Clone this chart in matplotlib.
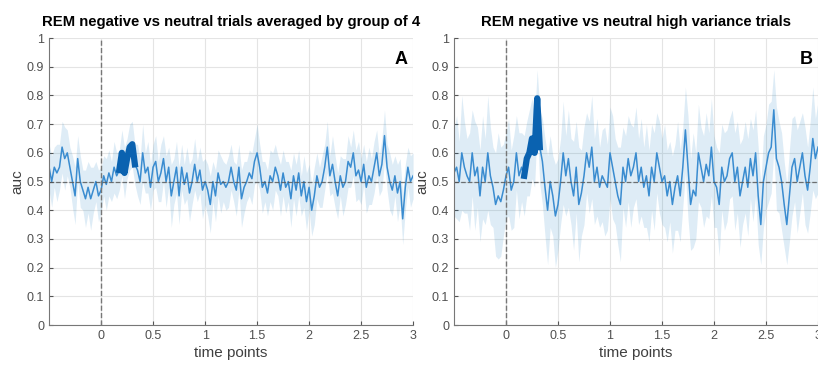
import numpy as np
import matplotlib
matplotlib.use("Agg")
import matplotlib.pyplot as plt

plt.rcParams['font.family'] = ['Liberation Sans', 'DejaVu Sans']

# mean auc per time point, panel A (step 0.025 s from -0.5 to 3)
auc_a = [0.55, 0.50, 0.55, 0.53, 0.55, 0.62, 0.58, 0.60, 0.55, 0.50,
         0.45, 0.58, 0.50, 0.47, 0.44, 0.48, 0.44, 0.47, 0.50, 0.45,
         0.47, 0.52, 0.49, 0.53, 0.50, 0.55, 0.52, 0.54, 0.60, 0.53,
         0.58, 0.62, 0.63, 0.56, 0.54, 0.50, 0.60, 0.53, 0.55, 0.48,
         0.55, 0.57, 0.50, 0.53, 0.58, 0.50, 0.55, 0.45, 0.50, 0.55,
         0.45, 0.55, 0.49, 0.53, 0.46, 0.50, 0.56, 0.50, 0.54, 0.47,
         0.50, 0.47, 0.42, 0.50, 0.45, 0.53, 0.49, 0.50, 0.48, 0.50,
         0.55, 0.50, 0.47, 0.55, 0.44, 0.48, 0.50, 0.53, 0.51, 0.57,
         0.60, 0.55, 0.48, 0.50, 0.46, 0.52, 0.50, 0.55, 0.52, 0.47,
         0.53, 0.48, 0.50, 0.44, 0.52, 0.47, 0.53, 0.45, 0.50, 0.43,
         0.48, 0.40, 0.45, 0.52, 0.48, 0.50, 0.55, 0.62, 0.52, 0.56,
         0.50, 0.45, 0.52, 0.48, 0.50, 0.57, 0.55, 0.60, 0.52, 0.54,
         0.50, 0.56, 0.48, 0.52, 0.50, 0.55, 0.60, 0.52, 0.56, 0.66,
         0.55, 0.50, 0.47, 0.52, 0.46, 0.50, 0.37, 0.48, 0.55, 0.50, 0.52]
# half width of the shaded band, panel A
err_a = [0.08, 0.09, 0.07, 0.10, 0.08, 0.09, 0.11, 0.08, 0.07, 0.09,
         0.10, 0.08, 0.09, 0.07, 0.10, 0.09, 0.11, 0.08, 0.07, 0.09,
         0.08, 0.07, 0.09, 0.08, 0.07, 0.09, 0.08, 0.07, 0.08, 0.09,
         0.07, 0.08, 0.08, 0.07, 0.09, 0.08, 0.10, 0.07, 0.09, 0.08,
         0.08, 0.09, 0.07, 0.10, 0.08, 0.09, 0.07, 0.11, 0.08, 0.09,
         0.10, 0.08, 0.07, 0.09, 0.10, 0.08, 0.09, 0.07, 0.08, 0.10,
         0.08, 0.09, 0.10, 0.07, 0.09, 0.08, 0.10, 0.07, 0.08, 0.09,
         0.08, 0.07, 0.09, 0.08, 0.10, 0.09, 0.07, 0.08, 0.09, 0.08,
         0.10, 0.08, 0.09, 0.07, 0.08, 0.09, 0.10, 0.08, 0.07, 0.09,
         0.08, 0.09, 0.07, 0.10, 0.08, 0.09, 0.08, 0.07, 0.09, 0.10,
         0.08, 0.09, 0.10, 0.08, 0.07, 0.09, 0.08, 0.09, 0.07, 0.10,
         0.09, 0.08, 0.07, 0.10, 0.08, 0.09, 0.07, 0.08, 0.09, 0.10,
         0.08, 0.07, 0.09, 0.10, 0.08, 0.09, 0.08, 0.07, 0.09, 0.09,
         0.08, 0.10, 0.09, 0.07, 0.10, 0.08, 0.09, 0.08, 0.07, 0.09, 0.08]

# panel B
auc_b = [0.53, 0.55, 0.50, 0.60, 0.55, 0.52, 0.50, 0.60, 0.52, 0.55,
         0.45, 0.55, 0.50, 0.60, 0.52, 0.48, 0.42, 0.45, 0.43, 0.47,
         0.52, 0.55, 0.47, 0.50, 0.60, 0.52, 0.55, 0.52, 0.58, 0.60,
         0.65, 0.60, 0.79, 0.62, 0.57, 0.48, 0.40, 0.50, 0.45, 0.38,
         0.42, 0.50, 0.60, 0.52, 0.58, 0.50, 0.45, 0.55, 0.42, 0.46,
         0.52, 0.60, 0.55, 0.62, 0.50, 0.55, 0.48, 0.52, 0.50, 0.48,
         0.60, 0.55, 0.50, 0.45, 0.42, 0.55, 0.50, 0.58, 0.52, 0.55,
         0.60, 0.50, 0.55, 0.48, 0.52, 0.45, 0.55, 0.50, 0.60, 0.55,
         0.50, 0.52, 0.45, 0.50, 0.42, 0.48, 0.52, 0.45, 0.55, 0.68,
         0.55, 0.42, 0.47, 0.45, 0.60, 0.55, 0.50, 0.56, 0.52, 0.62,
         0.50, 0.48, 0.42, 0.55, 0.50, 0.52, 0.58, 0.60, 0.50, 0.55,
         0.45, 0.50, 0.55, 0.48, 0.58, 0.52, 0.60, 0.45, 0.35, 0.50,
         0.55, 0.60, 0.62, 0.75, 0.58, 0.55, 0.50, 0.42, 0.35, 0.45,
         0.55, 0.58, 0.50, 0.55, 0.60, 0.52, 0.47, 0.55, 0.65, 0.58, 0.62]
err_b = [0.15, 0.18, 0.14, 0.20, 0.16, 0.13, 0.17, 0.15, 0.19, 0.14,
         0.16, 0.18, 0.15, 0.20, 0.17, 0.14, 0.18, 0.22, 0.19, 0.16,
         0.15, 0.17, 0.14, 0.16, 0.13, 0.15, 0.12, 0.14, 0.13, 0.15,
         0.14, 0.12, 0.10, 0.13, 0.15, 0.17, 0.19, 0.16, 0.14, 0.18,
         0.16, 0.15, 0.18, 0.14, 0.17, 0.15, 0.19, 0.16, 0.20, 0.15,
         0.17, 0.14, 0.16, 0.18, 0.15, 0.17, 0.14, 0.16, 0.19, 0.15,
         0.16, 0.18, 0.15, 0.17, 0.20, 0.14, 0.16, 0.15, 0.18, 0.14,
         0.16, 0.15, 0.17, 0.14, 0.18, 0.16, 0.15, 0.17, 0.14, 0.16,
         0.15, 0.18, 0.16, 0.14, 0.17, 0.15, 0.19, 0.16, 0.14, 0.15,
         0.18, 0.16, 0.20, 0.15, 0.17, 0.14, 0.16, 0.18, 0.15, 0.17,
         0.16, 0.14, 0.18, 0.15, 0.17, 0.16, 0.14, 0.15, 0.17, 0.16,
         0.18, 0.15, 0.16, 0.17, 0.14, 0.16, 0.15, 0.17, 0.14, 0.16,
         0.15, 0.17, 0.16, 0.14, 0.18, 0.16, 0.17, 0.15, 0.14, 0.16,
         0.17, 0.15, 0.18, 0.16, 0.14, 0.17, 0.15, 0.16, 0.18, 0.14, 0.16]

# significant time windows (s)
sig_a = (0.17, 0.35)
sig_b = (0.17, 0.33)

titles = ['REM negative vs neutral trials averaged by group of 4',
          'REM negative vs neutral high variance trials']
letters = ['A', 'B']

LINE = '#3a8cd0'
BAND = '#0072BD'
SIG = '#0a62b0'


def draw_panel(ax, auc, err, sig, title, letter):
    auc = np.array(auc)
    err = np.array(err)
    t = np.linspace(-0.5, 3.0, len(auc))
    ax.fill_between(t, auc - err, auc + err, color=BAND, alpha=0.13, lw=0)
    ax.plot(t, auc, color=LINE, lw=1.1)
    m = (t >= sig[0]) & (t <= sig[1])
    ax.plot(t[m], auc[m], color=SIG, lw=4.5, solid_joinstyle='round')
    ax.axhline(0.5, color='#555555', ls='--', lw=0.9, alpha=0.8)
    ax.axvline(0, color='#777777', ls='--', lw=1.0)
    ax.set_xlim(-0.5, 3)
    ax.set_ylim(0, 1)
    ax.set_xticks([0, 0.5, 1, 1.5, 2, 2.5, 3])
    ax.set_xticklabels(['0', '0.5', '1', '1.5', '2', '2.5', '3'])
    ax.set_yticks(np.arange(0, 1.01, 0.1))
    ax.set_yticklabels(['0', '0.1', '0.2', '0.3', '0.4', '0.5', '0.6',
                        '0.7', '0.8', '0.9', '1'])
    ax.grid(True, color='#e4e4e4', lw=0.8)
    ax.set_axisbelow(True)
    for s in ['top', 'right']:
        ax.spines[s].set_visible(False)
    for s in ['left', 'bottom']:
        ax.spines[s].set_color('#777777')
    ax.tick_params(direction='in', length=3, colors='#555555',
                   labelsize=9, labelcolor='#505050')
    ax.set_xlabel('time points', fontsize=11, color='#404040', labelpad=3)
    ax.set_ylabel('auc', fontsize=11, color='#404040', labelpad=2)
    ax.set_title(title, fontsize=10.7, fontweight='bold', pad=9)
    ax.text(2.95, 0.925, letter, fontsize=13, fontweight='bold',
            ha='right', va='center')


fig = plt.figure(figsize=(8.18, 3.66), dpi=100)
ax1 = fig.add_axes([0.060, 0.112, 0.445, 0.784])
ax2 = fig.add_axes([0.555, 0.112, 0.445, 0.784])

draw_panel(ax1, auc_a, err_a, sig_a, titles[0], letters[0])
draw_panel(ax2, auc_b, err_b, sig_b, titles[1], letters[1])

fig.savefig('out.png', dpi=100)
